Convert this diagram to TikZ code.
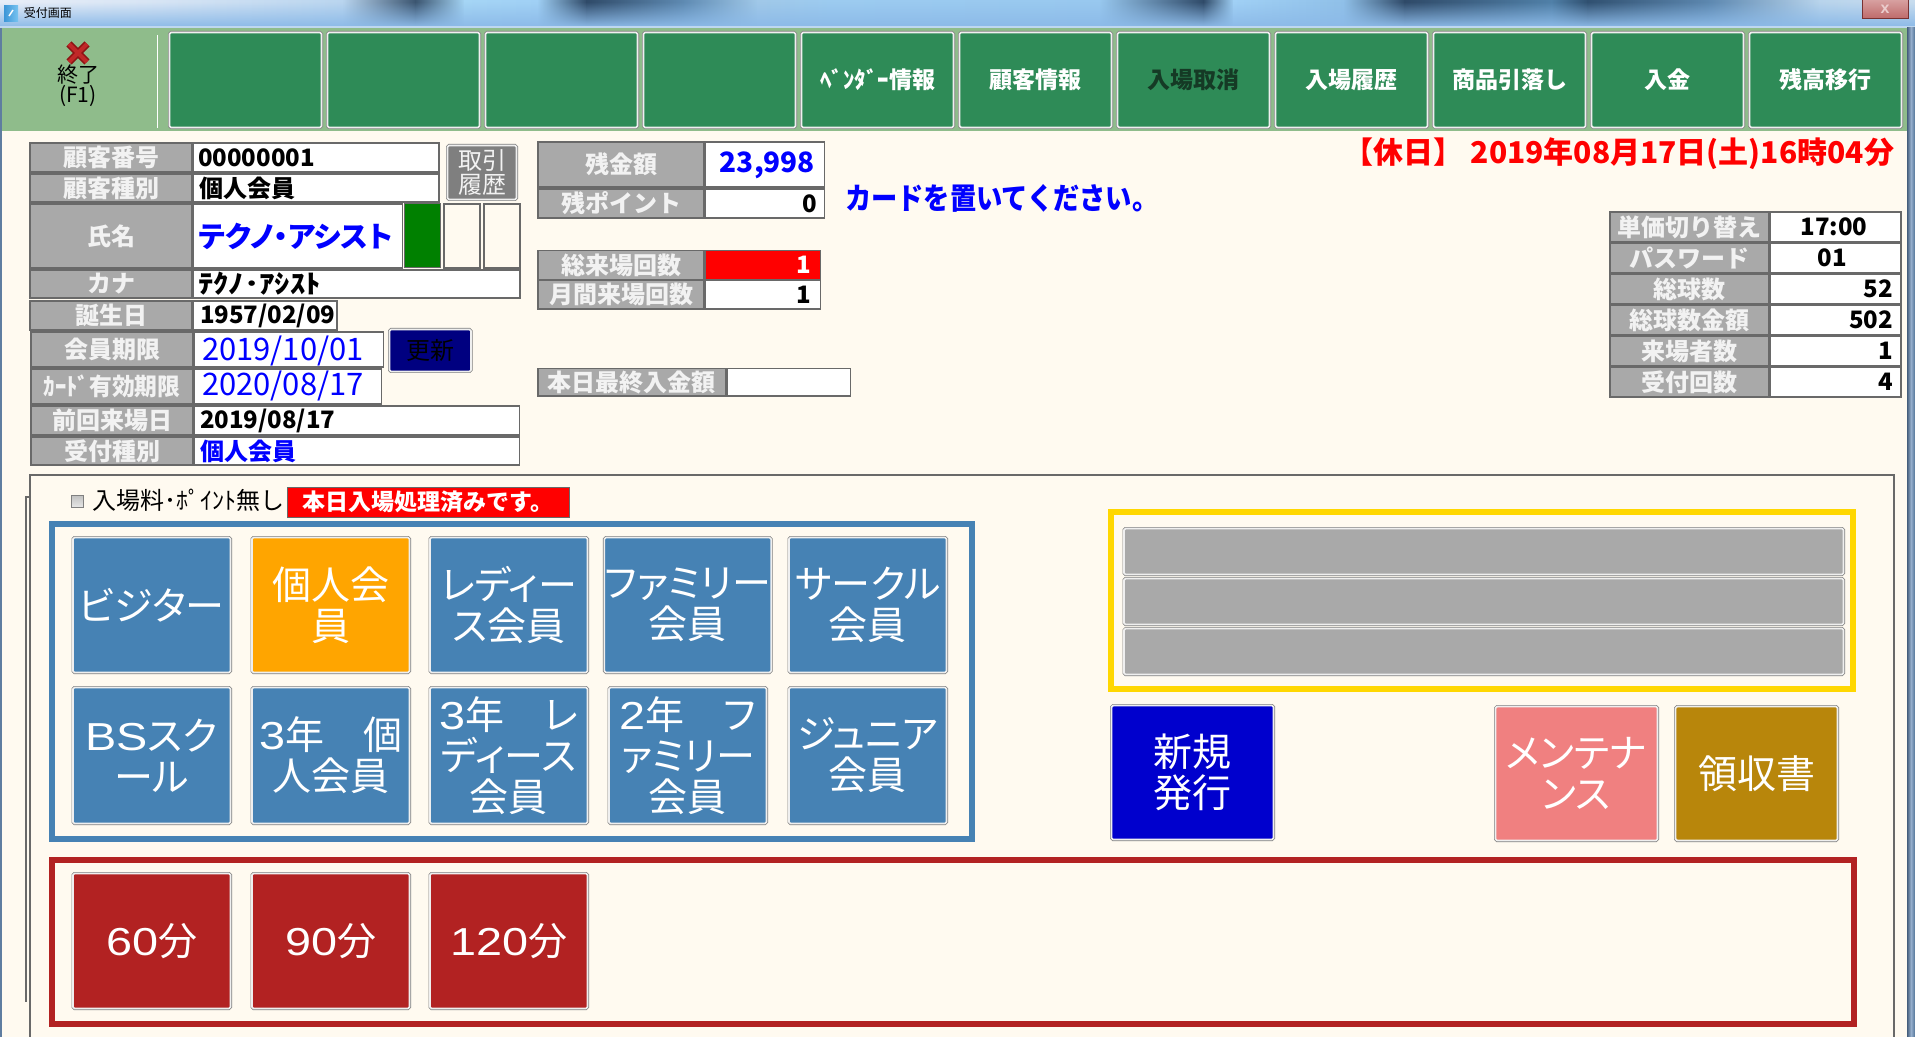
\documentclass[tikz,border=0pt]{standalone}
\usepackage{fontspec}
\usetikzlibrary{fadings}
\newfontfamily\jp{Noto Sans CJK JP}
\newfontfamily\jpp[RawFeature=+palt]{Noto Sans CJK JP}
\newfontfamily\lat{Liberation Sans}
\newcommand\fs[1]{\fontsize{#1}{#1}\selectfont}
\newcommand\fss[2]{\fontsize{#1}{#2}\selectfont}
\newcommand\xs[2]{\scalebox{#1}[1]{#2}}
\newcommand\wdg[1]{\xs{1.2}{\lat #1}}
\definecolor{floral}{HTML}{FFFAF0}
\definecolor{toolg}{HTML}{8FBC8B}
\definecolor{seag}{HTML}{2E8B57}
\definecolor{labg}{HTML}{A9A9A9}
\definecolor{lineg}{HTML}{696969}
\definecolor{labt}{HTML}{F2F2F2}
\definecolor{btnb}{HTML}{7F7F7F}
\definecolor{btnw}{HTML}{EFEFEF}
\definecolor{steel}{HTML}{4682B4}
\definecolor{orangeb}{HTML}{FFA500}
\definecolor{fire}{HTML}{B22222}
\definecolor{goldf}{HTML}{FFD700}
\definecolor{coral}{HTML}{F08080}
\definecolor{dgold}{HTML}{B8860B}
\definecolor{medblue}{HTML}{0000CD}
\definecolor{navyb}{HTML}{000080}
\definecolor{greenb}{HTML}{008000}
\definecolor{darktxt}{HTML}{153A25}
\definecolor{titlelow}{HTML}{8CBAE8}
\definecolor{titleline}{HTML}{BED7F0}
\definecolor{iconl}{HTML}{3C96D7}
\definecolor{iconr}{HTML}{78C3F0}
\definecolor{closet}{HTML}{D7A0A0}
\definecolor{closeb}{HTML}{BE6969}
\definecolor{closed}{HTML}{783232}
\definecolor{closex}{HTML}{EBCDCD}
\definecolor{edgel}{HTML}{5F7DA0}
\definecolor{edgea}{HTML}{465F7D}
\definecolor{edgeb}{HTML}{507396}
\definecolor{edgem}{HTML}{96AFCD}
\definecolor{xdark}{HTML}{8C1414}
\definecolor{xred}{HTML}{C02828}
\definecolor{chkt}{HTML}{C0C0C0}
\definecolor{chkb}{HTML}{E6E6E6}
% name,x0,y0,x1,y1,style,text
\newcommand\bx[7]{\node[#6,minimum width={(#4-(#2))*0.5pt},minimum height={(#5-(#3))*0.5pt}] (#1) at ({(#2+#4)/2},{(#3+#5)/2}) {#7};}
% button: the outer edge is given, the drawn border sits inside it
\newcommand\bn[7]{\node[btn=#6,minimum width={(#4-(#2)-3)*0.5pt},minimum height={(#5-(#3)-3)*0.5pt}] (#1) at ({(#2+#4)/2},{(#3+#5)/2}) {#7};}
\tikzset{
  base/.style={inner sep=0pt,outer sep=0pt,align=center},
  lab/.style={base,draw=lineg,fill=labg,line width=.6pt,text=labt,font=\jp\bfseries\fs{12}},
  val/.style={base,draw=lineg,fill=white,line width=.6pt},
  plain/.style={base,draw=lineg,line width=.6pt},
  frame/.style={base,draw=#1,line width=3pt},
  btn/.style={base,fill=#1,draw=btnw,line width=.8pt,rounded corners=.8pt,preaction={draw=btnb,line width=1.5pt,rounded corners=1pt},text=white,font=\jpp\fss{19.5}{20.5}},
  tool/.style={base,font=\jp\bfseries\fs{11.5}},
  vt/.style={base,font=\jp\bfseries\fs{12},text=black},
  blue/.style={text=blue},
}
\begin{document}
\begin{tikzpicture}[x=0.5pt,y=-0.5pt]
\useasboundingbox (0,0) rectangle (1915,1037);
\fill[floral] (0,0) rectangle (1915,1037);
% title bar
\foreach \a/\b/\ca/\cb in {0/159/E8EEF8/D6E4F4,159/342/D6E4F4/B9D5EF,342/415/B9D5EF/3B5570,415/464/3B5570/A5D5F5,464/537/A5D5F5/A0D0F5,537/586/A0D0F5/2F4A68,586/684/2F4A68/5F8BB3,684/757/5F8BB3/A0C8E8,757/830/A0C8E8/9CCBF0,830/1099/9CCBF0/98C8EF,1099/1203/98C8EF/2F4A68,1203/1233/2F4A68/A0D0F5,1233/1343/A0D0F5/90C0E8,1343/1404/90C0E8/2F4A68,1404/1551/2F4A68/5080A8,1551/1587/5080A8/305070,1587/1709/305070/5D88B0,1709/1819/5D88B0/B8D4EC,1819/1915/B8D4EC/C8DCEE}{
  \definecolor{ca}{HTML}{\ca}\definecolor{cb}{HTML}{\cb}
  \fill[left color=ca,right color=cb] (\a,1) rectangle (\b+1,27);
}
\fill[titlelow,path fading=north] (0,2) rectangle (1915,27);
\fill[titleline] (0,26) rectangle (1915,28);
\fill[left color=iconl,right color=iconr] (4,6) rectangle (18,22);
\draw[white,line width=.7pt] (9,16) -- (13,10);
\node[base,font=\jp\fs{6},text=black] (title) at (48,13) {受付画面};
\bx{closebtn}{1862}{0}{1908}{19}{base,top color=closet,bottom color=closeb,draw=closed,line width=.5pt,text=closex,font=\lat\bfseries\fs{8}}{x}
% window edges
\fill[edgel] (0,28) rectangle (2,1037);
\fill[left color=edgea,right color=edgeb,middle color=edgem] (1907,28) rectangle (1915,1037);
% toolbar
\fill[toolg] (2,28) rectangle (1907,131);
\draw[white,line width=.5pt] (157,35) -- (157,128);
\draw[xdark,line width=3.6pt] (69,44) -- (87,62);
\draw[xdark,line width=3.6pt] (87,44) -- (69,62);
\draw[xred,line width=2pt] (69,44) -- (87,62);
\draw[xred,line width=2pt] (87,44) -- (69,62);
\node[base,font=\jp\fs{10.5}] (quit) at (78,75) {終了};
\node[base,font=\jp\fs{10.5}] (quitk) at (78,96) {(F1)};
\foreach \i/\x in {1/168,2/326,3/484,4/642,5/800,6/958,7/1116,8/1274,9/1432,10/1590,11/1748}{
  \bn{tb\i}{\x}{31}{\x+155}{129}{seag}{}
}
\node[tool,text=white] (t5) at (tb5) {ﾍﾞﾝﾀﾞｰ情報};
\node[tool,text=white] (t6) at (tb6) {顧客情報};
\node[tool,text=darktxt] (t7) at (tb7) {入場取消};
\node[tool,text=white] (t8) at (tb8) {入場履歴};
\node[tool,text=white] (t9) at (tb9) {商品引落し};
\node[tool,text=white] (t10) at (tb10) {入金};
\node[tool,text=white] (t11) at (tb11) {残高移行};
% left table
\bx{l1}{30}{143}{192}{172}{lab}{顧客番号}
\bx{v1}{193.5}{143}{439}{172}{val}{}
\bx{l2}{30}{174}{192}{202}{lab}{顧客種別}
\bx{v2}{193.5}{174}{439}{202}{val}{}
\bx{l3}{30}{204}{192}{268}{lab}{氏名}
\bx{v3}{193.5}{204}{402.5}{268}{val}{}
\bx{g3}{404}{204}{440}{268}{base,fill=greenb,draw=lineg,line width=.5pt}{}
\bx{b3a}{444}{204}{480}{268}{plain}{}
\bx{b3b}{484}{204}{520}{268}{plain}{}
\bx{l4}{30}{270}{192}{298}{lab}{カナ}
\bx{v4}{193.5}{270}{520}{298}{val}{}
\bx{l5}{30}{301}{192}{330}{lab}{誕生日}
\bx{v5}{193.5}{301}{337}{330}{val}{}
\bx{l6}{31}{332}{193}{367}{lab}{会員期限}
\bx{v6}{194.5}{332}{383.5}{367}{val}{}
\bx{l7}{31}{369}{193}{404}{lab}{\xs{.95}{ｶｰﾄﾞ有効期限}}
\bx{v7}{194.5}{369}{381.5}{404}{val}{}
\bx{l8}{31}{406}{193}{435}{lab}{前回来場日}
\bx{v8}{194.5}{406}{519.5}{435}{val}{}
\bx{l9}{31}{437}{193}{465}{lab}{受付種別}
\bx{v9}{194.5}{437}{519.5}{465}{val}{}
\node[vt,anchor=west] (t1) at (198,157.5) {00000001};
\node[vt,anchor=west] (t2) at (199,188) {個人会員};
\node[vt,anchor=west,blue,font=\jpp\bfseries\fs{14.5}] (t3) at (199,236) {テクノ・アシスト};
\node[vt,anchor=west,font=\jp\bfseries\fs{13}] (t4) at (198,284) {\xs{1.18}{ﾃｸﾉ･ｱｼｽﾄ}};
\node[vt,anchor=west] (t50) at (200,316) {1957/02/09};
\node[vt,anchor=west,blue,font=\jp\fs{15.5}] (t60) at (202,351) {2019/10/01};
\node[vt,anchor=west,blue,font=\jp\fs{15.5}] (t70) at (202,386) {2020/08/17};
\node[vt,anchor=west] (t80) at (200,421) {2019/08/17};
\node[vt,anchor=west,blue] (t90) at (200,451) {個人会員};
\bn{hist}{446}{144}{518}{201}{btnb}{}
\node[base,text=labt,font=\jp\fss{12}{12}] (histt) at (hist) {取引\\履歴};
\bn{upd}{388}{328}{472.5}{373}{navyb}{}
\node[base,text=black,font=\jp\fs{12}] (updt) at (upd) {更新};
% middle tables
\bx{m1}{538}{142}{704}{187}{lab}{残金額}
\bx{mv1}{705}{142}{824.5}{187}{val}{}
\bx{m2}{538}{189}{704}{218}{lab}{残ポイント}
\bx{mv2}{705}{189}{824.5}{218}{val}{}
\bx{m3}{538}{250.5}{704}{280}{lab}{総来場回数}
\bx{mv3}{705}{250.5}{820.5}{280}{base,fill=red,draw=lineg,line width=.6pt}{}
\bx{m4}{538}{280}{704}{309}{lab}{月間来場回数}
\bx{mv4}{705}{280}{820.5}{309}{val}{}
\bx{m5}{538}{368.5}{725.5}{396}{lab}{本日最終入金額}
\bx{mv5}{727}{368.5}{850.5}{396}{val}{}
\node[vt,anchor=east,blue,font=\jp\bfseries\fs{14}] (tm1) at (815,165) {23,998};
\node[vt,anchor=east] (tm2) at (817,203.5) {0};
\node[vt,anchor=east,text=white] (tm3) at (811,265) {1};
\node[vt,anchor=east] (tm4) at (811,295) {1};
\node[base,text=blue,font=\jp\bfseries\fs{15},anchor=west] (card) at (845,198) {\xs{.875}{カードを置いてください。}};
\node[base,text=red,font=\jp\bfseries\fs{15},anchor=east] (date) at (1894,154) {【休日】 2019年08月17日(土)16時04分};
% right table
\foreach \i/\y/\t in {1/212/単価切り替え,2/243/パスワード,3/274/総球数,4/305/総球数金額,5/336/来場者数,6/367/受付回数}{
  \bx{r\i}{1610}{\y}{1769}{\y+30}{lab}{\t}
  \bx{rv\i}{1770}{\y}{1901}{\y+30}{val}{}
}
\node[vt] (trv1) at (1834,227) {17:00};
\node[vt] (trv2) at (1832,258) {01};
\node[vt,anchor=east] (trv3) at (1893,289) {52};
\node[vt,anchor=east] (trv4) at (1893,320) {502};
\node[vt,anchor=east] (trv5) at (1893,351) {1};
\node[vt,anchor=east] (trv6) at (1893,382) {4};
% group box
\draw[lineg,line width=.6pt] (30,1037) -- (30,475) -- (1894,475) -- (1894,1037);
\draw[lineg,line width=.6pt] (30,497) -- (26,497) -- (26,1002);
\bx{chk}{71}{495}{83}{507}{base,top color=chkt,bottom color=chkb,draw=gray,line width=.5pt}{}
\node[base,anchor=west,font=\jp\fs{12}] (nofee) at (92,500) {入場料･ﾎﾟｲﾝﾄ無し};
\bx{done}{287}{487}{569.5}{517}{base,fill=red,draw=lineg,line width=.5pt,text=white,font=\jp\bfseries\fs{11.5}}{本日入場処理済みです。}
% member buttons
\bx{fblue}{51.5}{524}{971.5}{839}{frame=steel}{}
\bn{a1}{71.5}{536}{232}{674}{steel}{ビジター}
\bn{a2}{250.5}{536}{411}{674}{orangeb}{個人会\\員}
\bn{a3}{428.5}{536}{589}{674}{steel}{レディー\\ス会員}
\bn{a4}{607.5}{536}{768}{674}{steel}{ファミリー\\会員}
\bn{a5}{787.5}{536}{948}{674}{steel}{サークル\\会員}
\bn{c1}{71.5}{686}{232}{825}{steel}{\wdg{BS}スク\\ール}
\bn{c2}{250.5}{686}{411}{825}{steel}{\wdg{3}年　個\\人会員}
\bn{c3}{428.5}{686}{589}{825}{steel}{\wdg{3}年　レ\\ディース\\会員}
\bn{c4}{607.5}{686}{768}{825}{steel}{\wdg{2}年　フ\\ァミリー\\会員}
\bn{c5}{787.5}{686}{948}{825}{steel}{ジュニア\\会員}
% red group
\bx{fred}{52}{860}{1854}{1024}{frame=fire}{}
\bn{d1}{71.5}{872}{232}{1010}{fire}{\wdg{60}分}
\bn{d2}{250.5}{872}{411}{1010}{fire}{\wdg{90}分}
\bn{d3}{428.5}{872}{589}{1010}{fire}{\wdg{120}分}
% yellow group
\bx{fyel}{1111}{512}{1853}{689}{frame=goldf}{}
\bn{e1}{1122.5}{527}{1845}{576}{labg}{}
\bn{e2}{1122.5}{577}{1845}{626}{labg}{}
\bn{e3}{1122.5}{627}{1845}{676}{labg}{}
\bn{f1}{1110}{704}{1275}{841}{medblue}{新規\\発行}
\bn{f2}{1494}{705}{1659}{842}{coral}{メンテナ\\ンス}
\bn{f3}{1674}{705}{1839}{842}{dgold}{領収書}
\end{tikzpicture}
\end{document}
